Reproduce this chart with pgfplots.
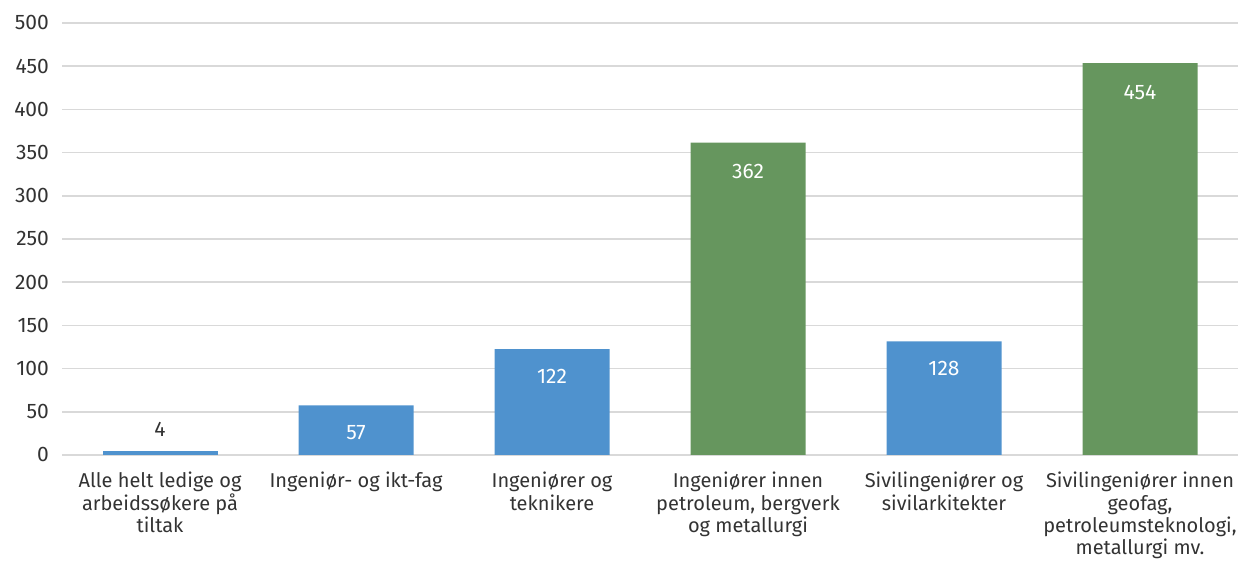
\documentclass[border=0pt]{standalone}
\usepackage{fontspec}
\setmainfont{Fira Sans}
\usepackage{pgfplots}
\pgfplotsset{compat=1.18}
\definecolor{barblue}{RGB}{79,146,206}
\definecolor{bargreen}{RGB}{102,150,94}
\definecolor{txt}{RGB}{51,51,51}
\definecolor{gridc}{RGB}{217,217,217}
\begin{document}
\begin{tikzpicture}
\begin{axis}[
  name=ax,
  scale only axis,
  width=588pt, height=216pt,
  xmin=-0.5, xmax=5.5,
  ymin=0, ymax=500,
  ytick={0,50,...,500},
  xtick={0,1,2,3,4,5},
  xticklabels={
    {Alle helt ledige og\\arbeidssøkere på\\tiltak},
    {Ingeniør- og ikt-fag},
    {Ingeniører og\\teknikere},
    {Ingeniører innen\\petroleum, bergverk\\og metallurgi},
    {Sivilingeniører og\\sivilarkitekter},
    {Sivilingeniører innen\\geofag,\\petroleumsteknologi,\\metallurgi mv.}
  },
  xticklabel style={align=center, font=\fontsize{10pt}{11.2pt}\selectfont, text=txt, anchor=north, yshift=-5pt},
  yticklabel style={font=\fontsize{10.5pt}{12pt}\selectfont, text=txt, xshift=-3pt},
  /pgf/number format/assume math mode=true,
  axis line style={draw=none},
  major tick length=0pt,
  ymajorgrids,
  grid style={gridc, line width=0.8pt},
  ybar, bar width=57.5pt, bar shift=0pt,
  point meta=explicit symbolic,
  nodes near coords,
  every node near coord/.append style={font=\fontsize{10.5pt}{12pt}\selectfont, anchor=center},
]
\addplot[fill=barblue, draw=none, nodes near coords style={text=txt, yshift=11pt}]
  coordinates {(0,4.5)[4]};
\addplot[fill=barblue, draw=none, nodes near coords style={text=white, yshift=-13.5pt}]
  coordinates {(1,57.5)[57] (2,122.5)[122] (4,131.5)[128]};
\addplot[fill=bargreen, draw=none, nodes near coords style={text=white, yshift=-14.5pt}]
  coordinates {(3,361.5)[362] (5,453.5)[454]};
\end{axis}
\pgfresetboundingbox
\path ([xshift=-31pt,yshift=-54pt]ax.south west) rectangle ([yshift=11.5pt]ax.north east);
\end{tikzpicture}
\end{document}
